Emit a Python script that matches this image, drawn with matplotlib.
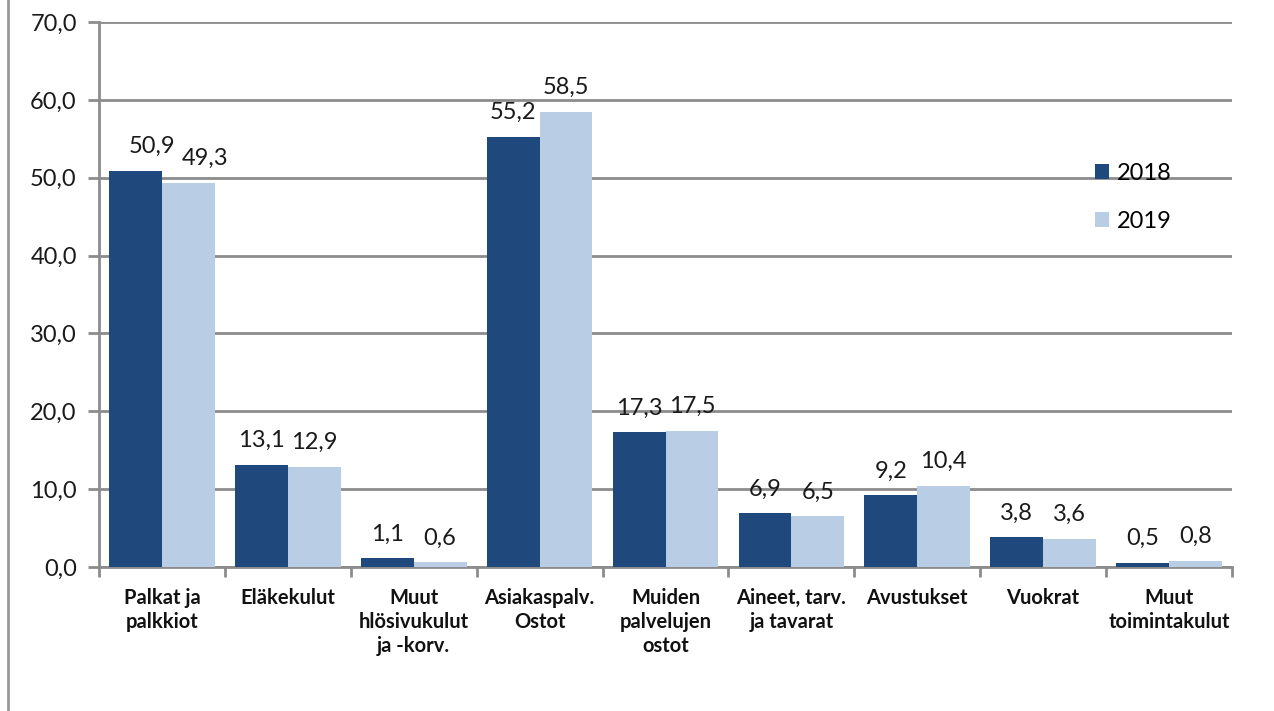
import numpy as np
import matplotlib
matplotlib.use('Agg')
import matplotlib.pyplot as plt
from matplotlib.lines import Line2D

plt.rcParams['font.family'] = ['Lato', 'DejaVu Sans']

categories = ['Palkat ja\npalkkiot', 'Eläkekulut', 'Muut\nhlösivukulut\nja -korv.',
              'Asiakaspalv.\nOstot', 'Muiden\npalvelujen\nostot', 'Aineet, tarv.\nja tavarat',
              'Avustukset', 'Vuokrat', 'Muut\ntoimintakulut']
v2018 = [50.9, 13.1, 1.1, 55.2, 17.3, 6.9, 9.2, 3.8, 0.5]
v2019 = [49.3, 12.9, 0.6, 58.5, 17.5, 6.5, 10.4, 3.6, 0.8]
years = ['2018', '2019']
yticks = [0, 10, 20, 30, 40, 50, 60, 70]

c18 = '#1f497d'
c19 = '#b9cde5'
grid = '#8c8c8c'

fig = plt.figure(figsize=(12.74, 7.11), dpi=100)
ax = fig.add_axes([99 / 1274, 1 - 567 / 711, (1232 - 99) / 1274, (567 - 22) / 711])

x = np.arange(len(categories))
w = 0.42
b1 = ax.bar(x - w / 2, v2018, w, color=c18, label=years[0], zorder=3)
b2 = ax.bar(x + w / 2, v2019, w, color=c19, label=years[1], zorder=3)

fmt = lambda v: f'{v:.1f}'.replace('.', ',')
for bars, vals in ((b1, v2018), (b2, v2019)):
    for i, (r, v) in enumerate(zip(bars, vals)):
        dx = 12 if i == 0 else 0  # first group's labels sit shifted right
        ax.annotate(fmt(v), (r.get_x() + r.get_width() / 2, v), xytext=(dx, 10),
                    textcoords='offset points', ha='center', va='bottom', fontsize=17,
                    color='#1a1a1a')

ax.set_xlim(-0.5, len(categories) - 0.5)
ax.set_ylim(0, 70)
ax.set_yticks(yticks)
ax.set_yticklabels([fmt(t) for t in yticks], fontsize=17, color='#1a1a1a')
ax.yaxis.grid(True, color=grid, linewidth=2, zorder=0)
ax.tick_params(axis='y', length=8, width=2, color=grid, pad=8)

ax.set_xticks(x)
ax.set_xticklabels(categories, fontsize=14.5, fontweight='bold', color='#111111',
                   linespacing=1.25)
ax.tick_params(axis='x', length=0, pad=15)
ax.set_xticks(np.arange(len(categories) + 1) - 0.5, minor=True)
ax.tick_params(axis='x', which='minor', length=7, width=2, color=grid)

for s in ['top', 'right']:
    ax.spines[s].set_visible(False)
for s in ['left', 'bottom']:
    ax.spines[s].set_color(grid)
    ax.spines[s].set_linewidth(2)

ax.legend(loc='upper left', bbox_to_anchor=(0.86, 0.78), frameon=False, fontsize=17,
          handlelength=0.6, handleheight=0.6, handletextpad=0.35, labelspacing=1.15)

fig.add_artist(Line2D([8 / 1274, 8 / 1274], [0, 1], color='#999999', linewidth=2))

fig.savefig('out.png', dpi=100)
